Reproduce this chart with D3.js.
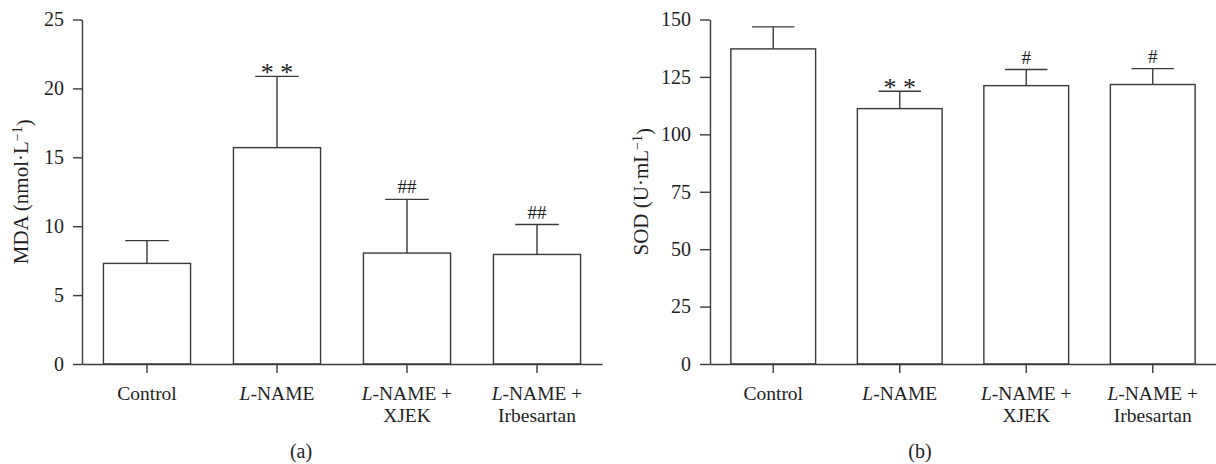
<!DOCTYPE html>
<html><head><meta charset="utf-8">
<script src="https://cdn.jsdelivr.net/npm/d3@7"></script>
<style>
body{margin:0;background:#fff}
svg{display:block}
text{font-family:"Liberation Serif","Times New Roman",serif;fill:#1e1e1e}
</style>
</head><body>
<svg id="c" width="1216" height="464"></svg>
<script>
// ---- data ----
const categories = ["Control", "L-NAME", "L-NAME + XJEK", "L-NAME + Irbesartan"];
const categoryLines = [["Control"], ["L-NAME"], ["L-NAME +", "XJEK"], ["L-NAME +", "Irbesartan"]];
const mdaMean = [7.3, 15.7, 8.05, 7.95];
const mdaSD = [1.65, 5.17, 3.9, 2.17];
const mdaMarks = ["", "* *", "##", "##"];
const mdaTicks = [0, 5, 10, 15, 20, 25];
const sodMean = [137.2, 111.2, 121.2, 121.7];
const sodSD = [9.6, 7.55, 7.0, 6.9];
const sodMarks = ["", "* *", "#", "#"];
const sodTicks = [0, 25, 50, 75, 100, 125, 150];

const svg = d3.select("#c");
const stroke = "#3a3a3a";

function panel(cfg) {
  const g = svg.append("g");
  const x = d3.scaleBand().domain(categories).range([cfg.left, cfg.right]).paddingInner(0.33).paddingOuter(0.165);
  const y = d3.scaleLinear().domain([0, cfg.max]).range([cfg.bottom, cfg.top]);

  // bars
  g.selectAll("rect.bar").data(categories).join("rect")
    .attr("x", d => x(d)).attr("width", x.bandwidth())
    .attr("y", (d, i) => y(cfg.mean[i])).attr("height", (d, i) => y(0) - y(cfg.mean[i]))
    .attr("fill", "#fff").attr("stroke", stroke).attr("stroke-width", 1.4);

  // error bars
  categories.forEach((d, i) => {
    const cx = x(d) + x.bandwidth() / 2;
    const top = y(cfg.mean[i] + cfg.sd[i]);
    g.append("line").attr("x1", cx).attr("x2", cx).attr("y1", y(cfg.mean[i])).attr("y2", top)
      .attr("stroke", stroke).attr("stroke-width", 1.4);
    g.append("line").attr("x1", cx - x.bandwidth() / 4).attr("x2", cx + x.bandwidth() / 4)
      .attr("y1", top).attr("y2", top).attr("stroke", stroke).attr("stroke-width", 1.4);
    const m = cfg.marks[i];
    if (m) {
      const star = m.includes("*");
      g.append("text").attr("x", cx).attr("y", star ? top + 5 : top - 6)
        .attr("text-anchor", "middle")
        .style("font-size", star ? "26px" : "19px")
        .text(m);
    }
  });

  // y axis
  const ya = g.append("g").attr("transform", `translate(${cfg.left},0)`)
    .call(d3.axisLeft(y).tickValues(cfg.ticks).tickSize(cfg.tick).tickPadding(9).tickSizeOuter(0));
  ya.selectAll("text").style("font-size", "20px");
  ya.selectAll("line,path").attr("stroke", stroke).attr("stroke-width", 1.4);

  // x axis
  const xa = g.append("g").attr("transform", `translate(0,${cfg.bottom})`)
    .call(d3.axisBottom(x).tickSize(9).tickSizeOuter(0).tickFormat(""));
  xa.selectAll("line,path").attr("stroke", stroke).attr("stroke-width", 1.4);

  categories.forEach((d, i) => {
    const cx = x(d) + x.bandwidth() / 2;
    categoryLines[i].forEach((ln, j) => {
      const t = g.append("text").attr("x", cx).attr("y", cfg.bottom + 36 + j * 22)
        .attr("text-anchor", "middle").style("font-size", "19.5px");
      if (ln.startsWith("L-")) {
        t.append("tspan").style("font-style", "italic").text("L");
        t.append("tspan").text(ln.slice(1));
      } else t.text(ln);
    });
  });

  // y label
  const yl = g.append("text")
    .attr("transform", `translate(${cfg.ylx},${(cfg.top + cfg.bottom) / 2}) rotate(-90)`)
    .attr("text-anchor", "middle").style("font-size", "21px");
  yl.append("tspan").text(cfg.ylabel);
  yl.append("tspan").attr("dy", "-0.45em").style("font-size", "14px").text("\u22121");
  yl.append("tspan").attr("dy", "0.45em").text(")");

  // panel letter
  svg.append("text").attr("x", cfg.letterX).attr("y", 458).attr("text-anchor", "middle")
    .style("font-size", "20px").text(cfg.letter);
}

panel({left: 82, right: 602, top: 19.5, bottom: 364, max: 25, mean: mdaMean, sd: mdaSD, marks: mdaMarks,
  ticks: mdaTicks, tick: 9, ylabel: "MDA (nmol\u00B7L", ylx: 28, letter: "(a)", letterX: 301});
panel({left: 710, right: 1216, top: 19.5, bottom: 364, max: 150, mean: sodMean, sd: sodSD, marks: sodMarks,
  ticks: sodTicks, tick: 10, ylabel: "SOD (U\u00B7mL", ylx: 648, letter: "(b)", letterX: 920});
</script>
</body></html>
